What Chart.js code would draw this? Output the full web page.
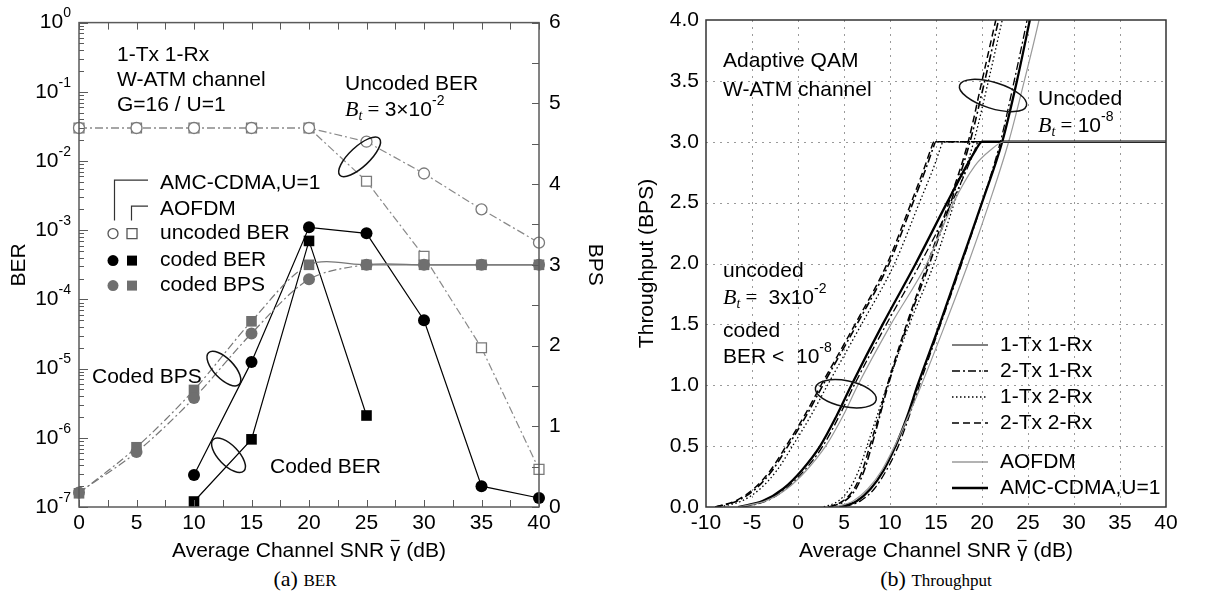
<!DOCTYPE html>
<html>
<head>
<meta charset="utf-8">
<script src="https://cdn.jsdelivr.net/npm/chart.js@4.4.0/dist/chart.umd.min.js"></script>
<style>
body{margin:0;background:#fff;width:1214px;height:595px;position:relative;overflow:hidden}
#berChart{position:absolute;left:0;top:0}
#tputChart{position:absolute;left:610px;top:0}
.cap{position:absolute;top:566px;font-family:"Liberation Serif","Times New Roman",serif;font-size:22px;color:#000;transform:translateX(-50%);white-space:nowrap}
.cap small{font-size:17px}
</style>
</head>
<body>
<canvas id="berChart" width="610" height="565"></canvas>
<canvas id="tputChart" width="604" height="565"></canvas>
<div class="cap" style="left:305px">(a) <small>BER</small></div>
<div class="cap" style="left:936px">(b) <small>Throughput</small></div>
<script>
// ---- (a) BER and BPS against SNR ----
var snrA = [0, 5, 10, 15, 20, 25, 30, 35, 40];
var cdmaUncodedBer = [3e-2, 3e-2, 3e-2, 3e-2, 3e-2, 1.9e-2, 6.6e-3, 2.0e-3, 6.6e-4];
var ofdmUncodedBer = [3e-2, 3e-2, 3e-2, 3e-2, 3e-2, 5.1e-3, 4.2e-4, 2.0e-5, 3.5e-7];
var cdmaCodedBer = [null, null, 2.9e-7, 1.25e-5, 1.1e-3, 9.0e-4, 5.0e-5, 2.0e-7, 1.35e-7];
var ofdmCodedBer = [null, null, 1.2e-7, 9.5e-7, 7.0e-4, 2.1e-6, null, null, null];
var cdmaCodedBps = [0.18, 0.68, 1.35, 2.15, 2.82, 3, 3, 3, 3];
var ofdmCodedBps = [0.17, 0.74, 1.45, 2.30, 3, 3, 3, 3, 3];
var berExponents = [-7, -6, -5, -4, -3, -2, -1, 0];

// ---- (b) throughput against SNR ----
// coded group (uncoded target 3x10^-2), snr read at these BPS levels
var codedBps = [0, 0.05, 0.15, 0.3, 0.5, 0.75, 1.0, 1.5, 2.0, 2.5, 2.8, 2.93, 3.0, 3.0];
var codedCdma11 = [-6.5, -3.8, -1.6, 0.4, 2.4, 4.2, 5.8, 9.2, 12.8, 16.2, 18.3, 19.3, 20.0, 40];
var codedOfdm11 = [-6.5, -3.5, -1.2, 0.9, 3.0, 4.9, 6.5, 10.1, 14.0, 16.9, 19.2, 20.9, 22.4, 40];
var codedExtra11 = [-6.0, -3.4, -1.3, 0.7, 2.7, 4.5, 6.1, 9.6, 13.3, 16.7, 18.5, 19.2, 19.6, 40];
var coded21 = [-9.0, -6.6, -4.6, -2.8, -1.1, 0.9, 2.7, 6.4, 9.9, 12.5, 14.0, 14.6, 15.0, 40];
var coded12 = [-8.5, -6.1, -4.1, -2.3, -0.6, 1.4, 3.2, 6.9, 10.5, 13.2, 14.8, 15.4, 15.8, 40];
var coded22 = [-9.0, -6.8, -4.8, -3.0, -1.3, 0.7, 2.5, 6.2, 9.7, 12.3, 13.8, 14.4, 14.8, 40];
// uncoded group (target 10^-8)
var uncodedBps = [0, 0.05, 0.15, 0.3, 0.5, 0.75, 1.0, 1.5, 2.0, 2.5, 3.0, 3.5, 4.0, 4.4];
var uncodedCdma11 = [4.5, 6.4, 7.9, 9.3, 10.6, 11.9, 13.0, 15.4, 17.7, 20.0, 22.2, 23.8, 25.2, 26.3];
var uncodedOfdm11 = [4.0, 6.0, 7.6, 9.1, 10.5, 12.0, 13.4, 16.0, 18.5, 20.8, 22.9, 24.6, 26.2, 27.3];
var uncodedExtra11 = [5.0, 6.8, 8.3, 9.6, 10.9, 12.1, 13.2, 15.5, 17.8, 20.0, 22.0, 23.5, 24.9, 25.9];
var uncoded21 = [3.5, 5.1, 6.3, 7.2, 8.0, 8.9, 9.8, 11.9, 14.3, 16.6, 18.7, 20.3, 21.8, 23.0];
var uncoded12 = [2.8, 4.4, 5.6, 6.6, 7.5, 8.6, 9.7, 12.1, 14.8, 17.0, 19.1, 20.7, 22.2, 23.4];
var uncoded22 = [3.3, 4.9, 6.1, 7.0, 7.8, 8.8, 9.7, 11.8, 14.1, 16.4, 18.5, 20.0, 21.5, 22.7];
var legendNames = ['1-Tx 1-Rx', '2-Tx 1-Rx', '1-Tx 2-Rx', '2-Tx 2-Rx', 'AOFDM', 'AMC-CDMA,U=1'];

var SANS = '"Liberation Sans", Arial, sans-serif';
var SERIF = '"Liberation Serif", "Times New Roman", serif';
var DASHDOT = [8, 3, 2, 3];
var DOTTED = [1.5, 2.5];
var DASHED = [7, 4];

function font(size, fam, style) { return (style || '') + ' ' + size + 'px ' + fam; }

// draw text made of several runs (for sub/superscripts)
function runs(ctx, x, y, parts, align) {
  var w = 0;
  parts.forEach(function(p){ ctx.font = p.font; p.w = ctx.measureText(p.t).width; w += p.w; });
  var cx = align === 'right' ? x - w : (align === 'center' ? x - w / 2 : x);
  var x0 = cx;
  ctx.textAlign = 'left';
  ctx.textBaseline = 'middle';
  ctx.fillStyle = '#000';
  parts.forEach(function(p){ ctx.font = p.font; p.x = cx; ctx.fillText(p.t, cx, y + (p.dy || 0)); cx += p.w; });
  return parts;
}
function label(ctx, t, x, y) { runs(ctx, x, y, [{t: t, font: font(21, SANS)}]); }
function btEq(ctx, x, y, rest) {
  runs(ctx, x, y, [
    {t: 'B', font: font(22, SERIF, 'italic')},
    {t: 't', font: font(14, SERIF, 'italic'), dy: 6},
    {t: ' = ', font: font(21, SERIF)}
  ].concat(rest));
}
// x axis title with an overbar on gamma
function snrTitle(ctx, a) {
  var p = runs(ctx, (a.left + a.right) / 2, 551, [
    {t: 'Average Channel SNR ', font: font(21, SANS)},
    {t: '\u03b3', font: font(21, SANS)},
    {t: ' (dB)', font: font(21, SANS)}
  ], 'center');
  ctx.save();
  ctx.strokeStyle = '#000'; ctx.lineWidth = 1.2;
  ctx.beginPath(); ctx.moveTo(p[1].x + 1, 540.5); ctx.lineTo(p[1].x + p[1].w - 1, 540.5); ctx.stroke();
  ctx.restore();
}
function ellipse(ctx, cx, cy, rx, ry, rot) {
  ctx.save();
  ctx.strokeStyle = '#111'; ctx.lineWidth = 1.5; ctx.setLineDash([]);
  ctx.beginPath(); ctx.ellipse(cx, cy, rx, ry, rot, 0, Math.PI * 2); ctx.stroke();
  ctx.restore();
}
function marker(ctx, shape, x, y, s, fill, stroke) {
  ctx.save();
  ctx.beginPath();
  if (shape === 'circle') ctx.arc(x, y, s, 0, Math.PI * 2);
  else ctx.rect(x - s, y - s, 2 * s, 2 * s);
  if (fill) { ctx.fillStyle = fill; ctx.fill(); }
  if (stroke) { ctx.strokeStyle = stroke; ctx.lineWidth = 1.3; ctx.stroke(); }
  ctx.restore();
}

function pts(xs, ys) {
  return xs.map(function(x, i){ return {x: x, y: ys[i]}; });
}

var leftDecor = {
  id: 'leftDecor',
  afterDraw: function(chart) {
    var ctx = chart.ctx, a = chart.chartArea;
    var xs = chart.scales.x, ys = chart.scales.ber, yb = chart.scales.bps;
    ctx.save();
    ctx.strokeStyle = '#5a5a5a'; ctx.lineWidth = 1.5;
    ctx.strokeRect(a.left, a.top, a.right - a.left, a.bottom - a.top);
    ctx.lineWidth = 1;
    ctx.beginPath();
    for (var v = 0; v <= 40; v += 2.5) {
      var px = Math.round(xs.getPixelForValue(v)) + 0.5;
      ctx.moveTo(px, a.bottom); ctx.lineTo(px, a.bottom - 7);
      ctx.moveTo(px, a.top); ctx.lineTo(px, a.top + 7);
    }
    berExponents.forEach(function(e){
      for (var m = 1; m <= 9; m++) {
        var val = m * Math.pow(10, e);
        if (val > 1) break;
        var py = Math.round(ys.getPixelForValue(val)) + 0.5;
        ctx.moveTo(a.left, py); ctx.lineTo(a.left + (m === 1 ? 9 : 5), py);
      }
    });
    for (var b = 0; b <= 6; b += 0.5) {
      var pb = Math.round(yb.getPixelForValue(b)) + 0.5;
      ctx.moveTo(a.right, pb); ctx.lineTo(a.right - 7, pb);
    }
    ctx.stroke();
    ctx.restore();

    // power-of-ten tick labels
    berExponents.forEach(function(e){
      var py = ys.getPixelForValue(Math.pow(10, e));
      runs(ctx, a.left - 8, py, [{t: '10', font: font(21, SANS)}, {t: String(e), font: font(14, SANS), dy: -9}], 'right');
    });
    snrTitle(ctx, a);

    // annotations
    var L = a.left, T = a.top;
    label(ctx, '1-Tx 1-Rx', L + 38, T + 33);
    label(ctx, 'W-ATM channel', L + 38, T + 58);
    label(ctx, 'G=16 / U=1', L + 38, T + 83);
    label(ctx, 'Uncoded BER', L + 266, T + 62);
    btEq(ctx, L + 266, T + 88, [{t: '3\u00d710', font: font(21, SANS)}, {t: '-2', font: font(14, SANS), dy: -9}]);
    label(ctx, 'Coded BPS', L + 13, T + 355);
    label(ctx, 'Coded BER', L + 191, T + 445);

    ellipse(ctx, xs.getPixelForValue(24.4), ys.getPixelForValue(1.15e-2), 27, 10, -0.75);
    ellipse(ctx, xs.getPixelForValue(12.6), ys.getPixelForValue(1.0e-5), 22, 10, 0.8);
    ellipse(ctx, xs.getPixelForValue(13.0), ys.getPixelForValue(5.6e-7), 22, 10, 0.8);

    // legend with brackets
    ctx.save();
    ctx.strokeStyle = '#333'; ctx.lineWidth = 1.2;
    ctx.beginPath();
    ctx.moveTo(L + 35.5, T + 198); ctx.lineTo(L + 35.5, T + 157.5); ctx.lineTo(L + 69, T + 157.5);
    ctx.moveTo(L + 52.5, T + 198); ctx.lineTo(L + 52.5, T + 183.5); ctx.lineTo(L + 69, T + 183.5);
    ctx.stroke();
    ctx.restore();
    label(ctx, 'AMC-CDMA,U=1', L + 81, T + 161);
    label(ctx, 'AOFDM', L + 81, T + 187);
    marker(ctx, 'circle', L + 34, T + 211, 5, '#fff', '#555');
    marker(ctx, 'rect', L + 53, T + 211, 5, '#fff', '#555');
    label(ctx, 'uncoded BER', L + 81, T + 211);
    marker(ctx, 'circle', L + 34, T + 238, 5.5, '#000', null);
    marker(ctx, 'rect', L + 53, T + 238, 5, '#000', null);
    label(ctx, 'coded BER', L + 81, T + 238);
    marker(ctx, 'circle', L + 34, T + 263, 5.5, '#6f6f6f', null);
    marker(ctx, 'rect', L + 53, T + 263, 5, '#6f6f6f', null);
    label(ctx, 'coded BPS', L + 81, T + 263);
  }
};

var bpsSegment = {
  borderDash: function(c){ return (c.p0.parsed.y === 3 && c.p1.parsed.y === 3) ? [] : DASHDOT; }
};

new Chart(document.getElementById('berChart'), {
  type: 'line',
  data: {
    datasets: [
      {data: pts(snrA, cdmaCodedBps), yAxisID: 'bps', borderColor: '#777', borderWidth: 1.2, segment: bpsSegment,
       tension: 0.3, pointStyle: 'circle', pointRadius: 6, pointBackgroundColor: '#6f6f6f', pointBorderWidth: 0, clip: false},
      {data: pts(snrA, ofdmCodedBps), yAxisID: 'bps', borderColor: '#777', borderWidth: 1.2, segment: bpsSegment,
       tension: 0.3, pointStyle: 'rect', pointRadius: 7.5, pointBackgroundColor: '#6f6f6f', pointBorderWidth: 0, clip: false},
      {data: pts(snrA, cdmaUncodedBer), yAxisID: 'ber', borderColor: '#8a8a8a', borderWidth: 1.2, borderDash: DASHDOT,
       pointStyle: 'circle', pointRadius: 5.5, pointBackgroundColor: '#fff', pointBorderColor: '#7a7a7a', pointBorderWidth: 1.3, clip: false},
      {data: pts(snrA, ofdmUncodedBer), yAxisID: 'ber', borderColor: '#8a8a8a', borderWidth: 1.2, borderDash: DASHDOT,
       pointStyle: 'rect', pointRadius: 7, pointBackgroundColor: '#fff', pointBorderColor: '#7a7a7a', pointBorderWidth: 1.3, clip: false},
      {data: pts(snrA, cdmaCodedBer), yAxisID: 'ber', borderColor: '#000', borderWidth: 1.2,
       pointStyle: 'circle', pointRadius: 6, pointBackgroundColor: '#000', pointBorderWidth: 0, clip: false},
      {data: pts(snrA, ofdmCodedBer), yAxisID: 'ber', borderColor: '#000', borderWidth: 1.2,
       pointStyle: 'rect', pointRadius: 7.5, pointBackgroundColor: '#000', pointBorderWidth: 0, clip: false}
    ]
  },
  options: {
    responsive: false,
    animation: false,
    events: [],
    layout: {padding: {left: 4, right: 0, top: 20, bottom: 0}},
    plugins: {legend: {display: false}, tooltip: {enabled: false}},
    scales: {
      x: {
        type: 'linear', min: 0, max: 40,
        ticks: {stepSize: 5, color: '#000', font: {size: 21, family: SANS}, padding: 4, maxRotation: 0, autoSkip: false},
        grid: {display: false, drawTicks: false}, border: {display: false},
        title: {display: false},
        afterFit: function(s){ s.height = 58; }
      },
      ber: {
        type: 'logarithmic', position: 'left', min: 1e-7, max: 1,
        ticks: {display: false}, grid: {display: false, drawTicks: false}, border: {display: false},
        title: {display: true, text: 'BER', color: '#000', font: {size: 21, family: SANS}, padding: {top: 3, bottom: 0}},
        afterFit: function(s){ s.width = 75; }
      },
      bps: {
        type: 'linear', position: 'right', min: 0, max: 6,
        ticks: {stepSize: 1, color: '#000', font: {size: 21, family: SANS}, padding: 10},
        grid: {display: false, drawTicks: false}, border: {display: false},
        title: {display: true, text: 'BPS', color: '#000', font: {size: 21, family: SANS}, padding: {top: 3, bottom: 0}},
        afterFit: function(s){ s.width = 71; }
      }
    }
  },
  plugins: [leftDecor]
});

// ---- (b) ----
function curve(snr, bps, color, width, dash) {
  return {data: pts(snr, bps), borderColor: color, borderWidth: width, borderDash: dash || [],
          pointRadius: 0, cubicInterpolationMode: 'monotone', fill: false};
}
var legendStyles = [
  {c: '#000', w: 1, d: []}, {c: '#000', w: 1.4, d: DASHDOT}, {c: '#000', w: 1.3, d: DOTTED},
  {c: '#000', w: 1.4, d: DASHED}, {c: '#9a9a9a', w: 1.3, d: []}, {c: '#000', w: 2.4, d: []}
];

var rightDecor = {
  id: 'rightDecor',
  beforeDatasetsDraw: function(chart) {
    var ctx = chart.ctx, a = chart.chartArea, xs = chart.scales.x, ys = chart.scales.y;
    ctx.save();
    ctx.strokeStyle = '#9a9a9a'; ctx.lineWidth = 1; ctx.setLineDash([2, 5]);
    ctx.beginPath();
    xs.ticks.forEach(function(t){
      var px = Math.round(xs.getPixelForValue(t.value)) + 0.5;
      if (px > a.left + 2 && px < a.right - 2) { ctx.moveTo(px, a.top); ctx.lineTo(px, a.bottom); }
    });
    ys.ticks.forEach(function(t){
      var py = Math.round(ys.getPixelForValue(t.value)) + 0.5;
      if (py > a.top + 2 && py < a.bottom - 2) { ctx.moveTo(a.left, py); ctx.lineTo(a.right, py); }
    });
    ctx.stroke();
    ctx.restore();
  },
  afterDraw: function(chart) {
    var ctx = chart.ctx, a = chart.chartArea, xs = chart.scales.x, ys = chart.scales.y;
    ctx.save();
    ctx.strokeStyle = '#333'; ctx.lineWidth = 1.5;
    ctx.strokeRect(a.left, a.top, a.right - a.left, a.bottom - a.top);
    ctx.restore();
    snrTitle(ctx, a);
    var L = a.left, T = a.top;
    label(ctx, 'Adaptive QAM', L + 17, T + 41);
    label(ctx, 'W-ATM channel', L + 17, T + 70);
    label(ctx, 'Uncoded', L + 332, T + 79);
    btEq(ctx, L + 332, T + 106, [{t: '10', font: font(21, SANS)}, {t: '-8', font: font(14, SANS), dy: -9}]);
    label(ctx, 'uncoded', L + 17, T + 251);
    btEq(ctx, L + 17, T + 278, [{t: ' 3x10', font: font(21, SANS)}, {t: '-2', font: font(14, SANS), dy: -9}]);
    label(ctx, 'coded', L + 17, T + 311);
    runs(ctx, L + 17, T + 337, [{t: 'BER <  10', font: font(21, SANS)}, {t: '-8', font: font(14, SANS), dy: -9}]);
    ellipse(ctx, xs.getPixelForValue(21.2), ys.getPixelForValue(3.38), 35, 13, 0.3);
    ellipse(ctx, xs.getPixelForValue(5.2), ys.getPixelForValue(0.93), 31, 13, 0.2);
    // legend
    var rowY = [325, 351, 377, 403, 442, 468];
    legendNames.forEach(function(n, i){
      var st = legendStyles[i];
      ctx.save();
      ctx.strokeStyle = st.c; ctx.lineWidth = st.w; ctx.setLineDash(st.d);
      ctx.beginPath(); ctx.moveTo(L + 246, T + rowY[i]); ctx.lineTo(L + 282, T + rowY[i]); ctx.stroke();
      ctx.restore();
      label(ctx, n, L + 294, T + rowY[i]);
    });
  }
};

new Chart(document.getElementById('tputChart'), {
  type: 'line',
  data: {
    datasets: [
      curve(codedOfdm11, codedBps, '#9a9a9a', 1.2),
      curve(codedExtra11, codedBps, '#000', 1.3, DASHDOT),
      curve(coded12, codedBps, '#000', 1.3, DOTTED),
      curve(coded22, codedBps, '#000', 1.5, DASHED),
      curve(coded21, codedBps, '#000', 1.6, DASHDOT),
      curve(codedCdma11, codedBps, '#000', 2.3),
      curve(uncodedOfdm11, uncodedBps, '#9a9a9a', 1.2),
      curve(uncodedExtra11, uncodedBps, '#000', 1.3, DASHDOT),
      curve(uncoded12, uncodedBps, '#000', 1.3, DOTTED),
      curve(uncoded22, uncodedBps, '#000', 1.5, DASHED),
      curve(uncoded21, uncodedBps, '#000', 1.6, DASHDOT),
      curve(uncodedCdma11, uncodedBps, '#000', 2.3)
    ]
  },
  options: {
    responsive: false,
    animation: false,
    events: [],
    layout: {padding: {left: 22, right: 48, top: 20, bottom: 0}},
    plugins: {legend: {display: false}, tooltip: {enabled: false}},
    scales: {
      x: {
        type: 'linear', min: -10, max: 40,
        ticks: {stepSize: 5, color: '#000', font: {size: 21, family: SANS}, padding: 4, maxRotation: 0, autoSkip: false},
        grid: {display: false, drawTicks: false}, border: {display: false},
        title: {display: false},
        afterFit: function(s){ s.height = 58; }
      },
      y: {
        type: 'linear', min: 0, max: 4,
        ticks: {stepSize: 0.5, color: '#000', font: {size: 21, family: SANS}, padding: 7,
                callback: function(v){ return Number(v).toFixed(1); }},
        grid: {display: false, drawTicks: false}, border: {display: false},
        title: {display: true, text: 'Throughput (BPS)', color: '#000', font: {size: 21, family: SANS}, padding: {top: 3, bottom: 0}},
        afterFit: function(s){ s.width = 74; }
      }
    }
  },
  plugins: [rightDecor]
});
</script>
</body>
</html>
